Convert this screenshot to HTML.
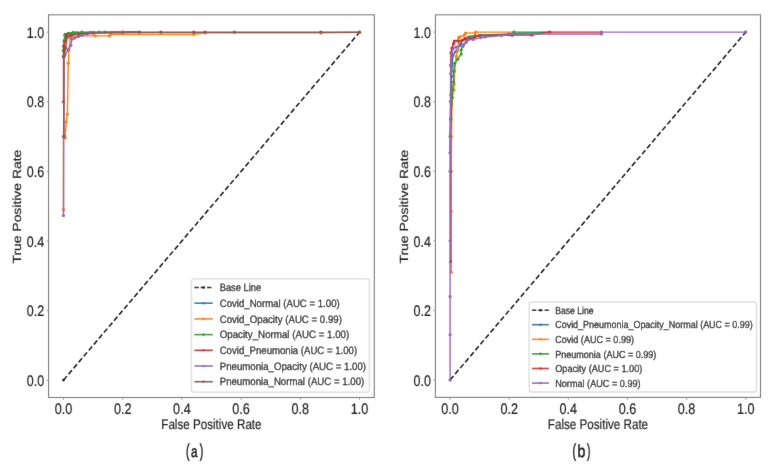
<!DOCTYPE html><html><head><meta charset="utf-8"><style>html,body{margin:0;padding:0;background:#fff;width:773px;height:469px;overflow:hidden}svg{display:block}text{font-family:"Liberation Sans", sans-serif;text-rendering:geometricPrecision}</style></head><body>
<svg width="773" height="469" viewBox="0 0 773 469">
<defs><filter id="bl" x="0" y="0" width="100%" height="100%" filterUnits="userSpaceOnUse"><feConvolveMatrix order="3" kernelMatrix="0.00524 0.06192 0.00524 0.06192 0.73137 0.06192 0.00524 0.06192 0.00524" divisor="1" edgeMode="duplicate" preserveAlpha="false"/></filter></defs>
<rect width="773" height="469" fill="#fff"/>
<g filter="url(#bl)">
<line x1="63.50" y1="380.10" x2="359.54" y2="32.20" stroke="#111" stroke-width="1.45" stroke-dasharray="5.2,2.6"/>
<circle cx="63.50" cy="380.10" r="1.3" fill="#111"/>
<circle cx="359.54" cy="32.20" r="1.3" fill="#111"/>
<polyline points="63.50,50.99 63.65,46.12 64.09,40.90 64.98,35.68 69.42,33.94 76.82,32.90 90.14,32.55 104.95,32.20 140.47,32.20" fill="none" stroke="#1f77b4" stroke-width="1.4" stroke-linejoin="round" stroke-linecap="round"/>
<circle cx="63.50" cy="50.99" r="1.6" fill="#1f77b4"/>
<circle cx="63.65" cy="46.12" r="1.6" fill="#1f77b4"/>
<circle cx="64.09" cy="40.90" r="1.6" fill="#1f77b4"/>
<circle cx="64.98" cy="35.68" r="1.6" fill="#1f77b4"/>
<circle cx="69.42" cy="33.94" r="1.6" fill="#1f77b4"/>
<circle cx="76.82" cy="32.90" r="1.6" fill="#1f77b4"/>
<circle cx="90.14" cy="32.55" r="1.6" fill="#1f77b4"/>
<circle cx="104.95" cy="32.20" r="1.6" fill="#1f77b4"/>
<polyline points="63.50,209.63 63.50,136.57 65.16,137.96 66.16,121.96 67.35,114.30 68.24,63.16 68.95,49.94 70.25,37.77 71.26,36.72 78.30,35.85 95.32,35.85 109.39,35.85 110.87,34.29 193.76,34.29 205.60,32.90 321.05,32.90 359.54,32.20" fill="none" stroke="#ff7f0e" stroke-width="1.4" stroke-linejoin="round" stroke-linecap="round"/>
<circle cx="63.50" cy="209.63" r="1.6" fill="#ff7f0e"/>
<circle cx="63.50" cy="136.57" r="1.6" fill="#ff7f0e"/>
<circle cx="65.16" cy="137.96" r="1.6" fill="#ff7f0e"/>
<circle cx="66.16" cy="121.96" r="1.6" fill="#ff7f0e"/>
<circle cx="67.35" cy="114.30" r="1.6" fill="#ff7f0e"/>
<circle cx="68.24" cy="63.16" r="1.6" fill="#ff7f0e"/>
<circle cx="68.95" cy="49.94" r="1.6" fill="#ff7f0e"/>
<circle cx="70.25" cy="37.77" r="1.6" fill="#ff7f0e"/>
<circle cx="71.26" cy="36.72" r="1.6" fill="#ff7f0e"/>
<circle cx="78.30" cy="35.85" r="1.6" fill="#ff7f0e"/>
<circle cx="95.32" cy="35.85" r="1.6" fill="#ff7f0e"/>
<circle cx="109.39" cy="35.85" r="1.6" fill="#ff7f0e"/>
<circle cx="110.87" cy="34.29" r="1.6" fill="#ff7f0e"/>
<circle cx="193.76" cy="34.29" r="1.6" fill="#ff7f0e"/>
<circle cx="205.60" cy="32.90" r="1.6" fill="#ff7f0e"/>
<circle cx="321.05" cy="32.90" r="1.6" fill="#ff7f0e"/>
<circle cx="359.54" cy="32.20" r="1.6" fill="#ff7f0e"/>
<polyline points="63.50,56.55 63.56,49.94 64.39,40.90 65.16,34.29 68.15,33.24 73.27,32.41 81.85,32.20 99.02,32.20 140.47,32.20" fill="none" stroke="#2ca02c" stroke-width="1.4" stroke-linejoin="round" stroke-linecap="round"/>
<circle cx="63.50" cy="56.55" r="1.6" fill="#2ca02c"/>
<circle cx="63.56" cy="49.94" r="1.6" fill="#2ca02c"/>
<circle cx="64.39" cy="40.90" r="1.6" fill="#2ca02c"/>
<circle cx="65.16" cy="34.29" r="1.6" fill="#2ca02c"/>
<circle cx="68.15" cy="33.24" r="1.6" fill="#2ca02c"/>
<circle cx="73.27" cy="32.41" r="1.6" fill="#2ca02c"/>
<circle cx="81.85" cy="32.20" r="1.6" fill="#2ca02c"/>
<circle cx="99.02" cy="32.20" r="1.6" fill="#2ca02c"/>
<polyline points="63.50,101.78 63.50,56.55 64.06,46.46 66.34,34.64 70.75,34.98 78.30,33.94 93.10,32.90 122.71,32.20 140.47,32.20" fill="none" stroke="#d62728" stroke-width="1.4" stroke-linejoin="round" stroke-linecap="round"/>
<circle cx="63.50" cy="101.78" r="1.6" fill="#d62728"/>
<circle cx="63.50" cy="56.55" r="1.6" fill="#d62728"/>
<circle cx="64.06" cy="46.46" r="1.6" fill="#d62728"/>
<circle cx="66.34" cy="34.64" r="1.6" fill="#d62728"/>
<circle cx="70.75" cy="34.98" r="1.6" fill="#d62728"/>
<circle cx="78.30" cy="33.94" r="1.6" fill="#d62728"/>
<circle cx="93.10" cy="32.90" r="1.6" fill="#d62728"/>
<circle cx="122.71" cy="32.20" r="1.6" fill="#d62728"/>
<polyline points="63.50,215.54 63.65,136.57 63.94,56.55 64.98,54.81 68.15,49.94 70.90,45.42 71.79,39.16 74.75,38.11 78.30,36.72 81.85,35.33 87.18,33.94 90.14,32.90 122.71,32.20 140.47,32.20" fill="none" stroke="#9467bd" stroke-width="1.4" stroke-linejoin="round" stroke-linecap="round"/>
<circle cx="63.50" cy="215.54" r="1.6" fill="#9467bd"/>
<circle cx="63.65" cy="136.57" r="1.6" fill="#9467bd"/>
<circle cx="63.94" cy="56.55" r="1.6" fill="#9467bd"/>
<circle cx="64.98" cy="54.81" r="1.6" fill="#9467bd"/>
<circle cx="68.15" cy="49.94" r="1.6" fill="#9467bd"/>
<circle cx="70.90" cy="45.42" r="1.6" fill="#9467bd"/>
<circle cx="71.79" cy="39.16" r="1.6" fill="#9467bd"/>
<circle cx="74.75" cy="38.11" r="1.6" fill="#9467bd"/>
<circle cx="78.30" cy="36.72" r="1.6" fill="#9467bd"/>
<circle cx="81.85" cy="35.33" r="1.6" fill="#9467bd"/>
<circle cx="87.18" cy="33.94" r="1.6" fill="#9467bd"/>
<circle cx="90.14" cy="32.90" r="1.6" fill="#9467bd"/>
<circle cx="122.71" cy="32.20" r="1.6" fill="#9467bd"/>
<polyline points="63.94,136.57 63.94,56.55 65.72,47.86 67.14,37.42 70.75,35.68 78.30,33.94 93.10,32.90 139.29,32.20 160.90,32.20 193.76,32.20 205.01,32.20 234.32,32.20 320.76,32.20 359.54,32.20" fill="none" stroke="#8c564b" stroke-width="1.4" stroke-linejoin="round" stroke-linecap="round"/>
<circle cx="63.94" cy="136.57" r="1.6" fill="#8c564b"/>
<circle cx="63.94" cy="56.55" r="1.6" fill="#8c564b"/>
<circle cx="65.72" cy="47.86" r="1.6" fill="#8c564b"/>
<circle cx="67.14" cy="37.42" r="1.6" fill="#8c564b"/>
<circle cx="70.75" cy="35.68" r="1.6" fill="#8c564b"/>
<circle cx="78.30" cy="33.94" r="1.6" fill="#8c564b"/>
<circle cx="93.10" cy="32.90" r="1.6" fill="#8c564b"/>
<circle cx="139.29" cy="32.20" r="1.6" fill="#8c564b"/>
<circle cx="160.90" cy="32.20" r="1.6" fill="#8c564b"/>
<circle cx="193.76" cy="32.20" r="1.6" fill="#8c564b"/>
<circle cx="205.01" cy="32.20" r="1.6" fill="#8c564b"/>
<circle cx="234.32" cy="32.20" r="1.6" fill="#8c564b"/>
<circle cx="320.76" cy="32.20" r="1.6" fill="#8c564b"/>
<circle cx="359.54" cy="32.20" r="1.6" fill="#8c564b"/>
<rect x="48.55" y="14.80" width="325.75" height="382.70" fill="none" stroke="#7f7f7f" stroke-width="1.1"/>
<line x1="63.50" y1="397.50" x2="63.50" y2="399.70" stroke="#999" stroke-width="1"/>
<text x="63.50" y="413.80" font-size="15.3" text-anchor="middle" fill="#1f1f1f" stroke="#1f1f1f" stroke-width="0.18" textLength="17.60" lengthAdjust="spacingAndGlyphs" >0.0</text>
<line x1="46.55" y1="380.10" x2="48.55" y2="380.10" stroke="#999" stroke-width="1"/>
<text x="44.15" y="385.80" font-size="15.3" text-anchor="end" fill="#1f1f1f" stroke="#1f1f1f" stroke-width="0.18" textLength="17.40" lengthAdjust="spacingAndGlyphs" >0.0</text>
<line x1="122.71" y1="397.50" x2="122.71" y2="399.70" stroke="#999" stroke-width="1"/>
<text x="122.71" y="413.80" font-size="15.3" text-anchor="middle" fill="#1f1f1f" stroke="#1f1f1f" stroke-width="0.18" textLength="17.60" lengthAdjust="spacingAndGlyphs" >0.2</text>
<line x1="46.55" y1="310.52" x2="48.55" y2="310.52" stroke="#999" stroke-width="1"/>
<text x="44.15" y="316.22" font-size="15.3" text-anchor="end" fill="#1f1f1f" stroke="#1f1f1f" stroke-width="0.18" textLength="17.40" lengthAdjust="spacingAndGlyphs" >0.2</text>
<line x1="181.92" y1="397.50" x2="181.92" y2="399.70" stroke="#999" stroke-width="1"/>
<text x="181.92" y="413.80" font-size="15.3" text-anchor="middle" fill="#1f1f1f" stroke="#1f1f1f" stroke-width="0.18" textLength="17.60" lengthAdjust="spacingAndGlyphs" >0.4</text>
<line x1="46.55" y1="240.94" x2="48.55" y2="240.94" stroke="#999" stroke-width="1"/>
<text x="44.15" y="246.64" font-size="15.3" text-anchor="end" fill="#1f1f1f" stroke="#1f1f1f" stroke-width="0.18" textLength="17.40" lengthAdjust="spacingAndGlyphs" >0.4</text>
<line x1="241.12" y1="397.50" x2="241.12" y2="399.70" stroke="#999" stroke-width="1"/>
<text x="241.12" y="413.80" font-size="15.3" text-anchor="middle" fill="#1f1f1f" stroke="#1f1f1f" stroke-width="0.18" textLength="17.60" lengthAdjust="spacingAndGlyphs" >0.6</text>
<line x1="46.55" y1="171.36" x2="48.55" y2="171.36" stroke="#999" stroke-width="1"/>
<text x="44.15" y="177.06" font-size="15.3" text-anchor="end" fill="#1f1f1f" stroke="#1f1f1f" stroke-width="0.18" textLength="17.40" lengthAdjust="spacingAndGlyphs" >0.6</text>
<line x1="300.33" y1="397.50" x2="300.33" y2="399.70" stroke="#999" stroke-width="1"/>
<text x="300.33" y="413.80" font-size="15.3" text-anchor="middle" fill="#1f1f1f" stroke="#1f1f1f" stroke-width="0.18" textLength="17.60" lengthAdjust="spacingAndGlyphs" >0.8</text>
<line x1="46.55" y1="101.78" x2="48.55" y2="101.78" stroke="#999" stroke-width="1"/>
<text x="44.15" y="107.48" font-size="15.3" text-anchor="end" fill="#1f1f1f" stroke="#1f1f1f" stroke-width="0.18" textLength="17.40" lengthAdjust="spacingAndGlyphs" >0.8</text>
<line x1="359.54" y1="397.50" x2="359.54" y2="399.70" stroke="#999" stroke-width="1"/>
<text x="359.54" y="413.80" font-size="15.3" text-anchor="middle" fill="#1f1f1f" stroke="#1f1f1f" stroke-width="0.18" textLength="17.60" lengthAdjust="spacingAndGlyphs" >1.0</text>
<line x1="46.55" y1="32.20" x2="48.55" y2="32.20" stroke="#999" stroke-width="1"/>
<text x="44.15" y="37.90" font-size="15.3" text-anchor="end" fill="#1f1f1f" stroke="#1f1f1f" stroke-width="0.18" textLength="17.40" lengthAdjust="spacingAndGlyphs" >1.0</text>
<text x="211.43" y="428.80" font-size="14" text-anchor="middle" fill="#1f1f1f" stroke="#1f1f1f" stroke-width="0.18" textLength="100.30" lengthAdjust="spacingAndGlyphs" >False Positive Rate</text>
<g transform="translate(21.40,206.65) scale(0.84,1) rotate(-90)"><text x="0" y="0" font-size="14" text-anchor="middle" fill="#1f1f1f" stroke="#1f1f1f" stroke-width="0.18" textLength="113.9" lengthAdjust="spacingAndGlyphs">True Positive Rate</text></g>
<rect x="191.50" y="278.90" width="178.00" height="113.20" rx="2.5" ry="2.5" fill="#fff" fill-opacity="0.8" stroke="#dcdcdc" stroke-width="1.3"/>
<line x1="194.40" y1="287.50" x2="212.80" y2="287.50" stroke="#111" stroke-width="1.6" stroke-dasharray="4.4,1.9"/>
<circle cx="203.60" cy="287.50" r="1.3" fill="#111"/>
<text x="219.70" y="291.25" font-size="10.7" text-anchor="start" fill="#1f1f1f" stroke="#1f1f1f" stroke-width="0.28" textLength="41.50" lengthAdjust="spacingAndGlyphs" >Base Line</text>
<line x1="194.40" y1="303.20" x2="212.80" y2="303.20" stroke="#1f77b4" stroke-width="1.6"/>
<circle cx="203.60" cy="303.20" r="1.3" fill="#1f77b4"/>
<text x="219.70" y="306.95" font-size="10.7" text-anchor="start" fill="#1f1f1f" stroke="#1f1f1f" stroke-width="0.28" textLength="120.00" lengthAdjust="spacingAndGlyphs" >Covid_Normal (AUC = 1.00)</text>
<line x1="194.40" y1="318.90" x2="212.80" y2="318.90" stroke="#ff7f0e" stroke-width="1.6"/>
<circle cx="203.60" cy="318.90" r="1.3" fill="#ff7f0e"/>
<text x="219.70" y="322.65" font-size="10.7" text-anchor="start" fill="#1f1f1f" stroke="#1f1f1f" stroke-width="0.28" textLength="122.20" lengthAdjust="spacingAndGlyphs" >Covid_Opacity (AUC = 0.99)</text>
<line x1="194.40" y1="334.60" x2="212.80" y2="334.60" stroke="#2ca02c" stroke-width="1.6"/>
<circle cx="203.60" cy="334.60" r="1.3" fill="#2ca02c"/>
<text x="219.70" y="338.35" font-size="10.7" text-anchor="start" fill="#1f1f1f" stroke="#1f1f1f" stroke-width="0.28" textLength="129.60" lengthAdjust="spacingAndGlyphs" >Opacity_Normal (AUC = 1.00)</text>
<line x1="194.40" y1="350.30" x2="212.80" y2="350.30" stroke="#d62728" stroke-width="1.6"/>
<circle cx="203.60" cy="350.30" r="1.3" fill="#d62728"/>
<text x="219.70" y="354.05" font-size="10.7" text-anchor="start" fill="#1f1f1f" stroke="#1f1f1f" stroke-width="0.28" textLength="137.40" lengthAdjust="spacingAndGlyphs" >Covid_Pneumonia (AUC = 1.00)</text>
<line x1="194.40" y1="366.00" x2="212.80" y2="366.00" stroke="#9467bd" stroke-width="1.6"/>
<circle cx="203.60" cy="366.00" r="1.3" fill="#9467bd"/>
<text x="219.70" y="369.75" font-size="10.7" text-anchor="start" fill="#1f1f1f" stroke="#1f1f1f" stroke-width="0.28" textLength="146.40" lengthAdjust="spacingAndGlyphs" >Pneumonia_Opacity (AUC = 1.00)</text>
<line x1="194.40" y1="381.70" x2="212.80" y2="381.70" stroke="#8c564b" stroke-width="1.6"/>
<circle cx="203.60" cy="381.70" r="1.3" fill="#8c564b"/>
<text x="219.70" y="385.45" font-size="10.7" text-anchor="start" fill="#1f1f1f" stroke="#1f1f1f" stroke-width="0.28" textLength="144.60" lengthAdjust="spacingAndGlyphs" >Pneumonia_Normal (AUC = 1.00)</text>
<line x1="450.10" y1="380.00" x2="745.70" y2="32.10" stroke="#111" stroke-width="1.45" stroke-dasharray="5.2,2.6"/>
<circle cx="450.10" cy="380.00" r="1.3" fill="#111"/>
<circle cx="745.70" cy="32.10" r="1.3" fill="#111"/>
<polyline points="450.10,152.82 450.40,119.08 450.99,94.72 451.49,76.28 451.99,65.85 453.00,55.06 456.01,51.23 459.56,45.67 460.74,42.88 464.58,38.71 468.13,37.32 470.50,36.97 480.84,35.23 509.22,33.84 550.60,32.10" fill="none" stroke="#1f77b4" stroke-width="1.4" stroke-linejoin="round" stroke-linecap="round"/>
<circle cx="450.10" cy="152.82" r="1.6" fill="#1f77b4"/>
<circle cx="450.40" cy="119.08" r="1.6" fill="#1f77b4"/>
<circle cx="450.99" cy="94.72" r="1.6" fill="#1f77b4"/>
<circle cx="451.49" cy="76.28" r="1.6" fill="#1f77b4"/>
<circle cx="451.99" cy="65.85" r="1.6" fill="#1f77b4"/>
<circle cx="453.00" cy="55.06" r="1.6" fill="#1f77b4"/>
<circle cx="456.01" cy="51.23" r="1.6" fill="#1f77b4"/>
<circle cx="459.56" cy="45.67" r="1.6" fill="#1f77b4"/>
<circle cx="460.74" cy="42.88" r="1.6" fill="#1f77b4"/>
<circle cx="464.58" cy="38.71" r="1.6" fill="#1f77b4"/>
<circle cx="468.13" cy="37.32" r="1.6" fill="#1f77b4"/>
<circle cx="470.50" cy="36.97" r="1.6" fill="#1f77b4"/>
<circle cx="480.84" cy="35.23" r="1.6" fill="#1f77b4"/>
<circle cx="509.22" cy="33.84" r="1.6" fill="#1f77b4"/>
<polyline points="451.28,272.15 451.28,211.62 451.28,171.26 451.43,136.47 451.99,104.12 452.46,97.85 453.65,90.20 454.09,83.94 454.71,71.06 456.31,56.45 457.79,50.54 458.67,37.67 459.85,36.97 464.29,35.23 465.47,33.14 475.82,32.80 475.82,32.10 513.95,32.10" fill="none" stroke="#ff7f0e" stroke-width="1.4" stroke-linejoin="round" stroke-linecap="round"/>
<circle cx="451.28" cy="272.15" r="1.6" fill="#ff7f0e"/>
<circle cx="451.28" cy="211.62" r="1.6" fill="#ff7f0e"/>
<circle cx="451.28" cy="171.26" r="1.6" fill="#ff7f0e"/>
<circle cx="451.43" cy="136.47" r="1.6" fill="#ff7f0e"/>
<circle cx="451.99" cy="104.12" r="1.6" fill="#ff7f0e"/>
<circle cx="452.46" cy="97.85" r="1.6" fill="#ff7f0e"/>
<circle cx="453.65" cy="90.20" r="1.6" fill="#ff7f0e"/>
<circle cx="454.09" cy="83.94" r="1.6" fill="#ff7f0e"/>
<circle cx="454.71" cy="71.06" r="1.6" fill="#ff7f0e"/>
<circle cx="456.31" cy="56.45" r="1.6" fill="#ff7f0e"/>
<circle cx="457.79" cy="50.54" r="1.6" fill="#ff7f0e"/>
<circle cx="458.67" cy="37.67" r="1.6" fill="#ff7f0e"/>
<circle cx="459.85" cy="36.97" r="1.6" fill="#ff7f0e"/>
<circle cx="464.29" cy="35.23" r="1.6" fill="#ff7f0e"/>
<circle cx="465.47" cy="33.14" r="1.6" fill="#ff7f0e"/>
<circle cx="475.82" cy="32.80" r="1.6" fill="#ff7f0e"/>
<circle cx="475.82" cy="32.10" r="1.6" fill="#ff7f0e"/>
<polyline points="450.10,136.47 450.99,119.08 451.99,97.85 452.46,89.16 453.65,81.85 453.65,71.06 454.71,63.41 457.79,59.24 461.19,54.02 461.19,49.84 462.81,46.36 468.13,37.67 470.50,36.97 474.93,35.58 484.98,35.23 512.18,35.23 513.95,32.10 549.72,32.10" fill="none" stroke="#2ca02c" stroke-width="1.4" stroke-linejoin="round" stroke-linecap="round"/>
<circle cx="450.10" cy="136.47" r="1.6" fill="#2ca02c"/>
<circle cx="450.99" cy="119.08" r="1.6" fill="#2ca02c"/>
<circle cx="451.99" cy="97.85" r="1.6" fill="#2ca02c"/>
<circle cx="452.46" cy="89.16" r="1.6" fill="#2ca02c"/>
<circle cx="453.65" cy="81.85" r="1.6" fill="#2ca02c"/>
<circle cx="453.65" cy="71.06" r="1.6" fill="#2ca02c"/>
<circle cx="454.71" cy="63.41" r="1.6" fill="#2ca02c"/>
<circle cx="457.79" cy="59.24" r="1.6" fill="#2ca02c"/>
<circle cx="461.19" cy="54.02" r="1.6" fill="#2ca02c"/>
<circle cx="461.19" cy="49.84" r="1.6" fill="#2ca02c"/>
<circle cx="462.81" cy="46.36" r="1.6" fill="#2ca02c"/>
<circle cx="468.13" cy="37.67" r="1.6" fill="#2ca02c"/>
<circle cx="470.50" cy="36.97" r="1.6" fill="#2ca02c"/>
<circle cx="474.93" cy="35.58" r="1.6" fill="#2ca02c"/>
<circle cx="484.98" cy="35.23" r="1.6" fill="#2ca02c"/>
<circle cx="512.18" cy="35.23" r="1.6" fill="#2ca02c"/>
<circle cx="513.95" cy="32.10" r="1.6" fill="#2ca02c"/>
<polyline points="450.54,261.71 450.54,171.26 450.69,101.68 450.69,65.15 450.99,52.97 451.87,48.10 453.50,43.93 454.39,41.15 457.79,40.80 461.92,40.45 465.47,39.06 469.02,38.36 473.16,38.01 474.93,36.97 479.07,35.58 511.88,34.95 531.69,34.95 549.72,32.10 601.45,32.10" fill="none" stroke="#d62728" stroke-width="1.4" stroke-linejoin="round" stroke-linecap="round"/>
<circle cx="450.54" cy="261.71" r="1.6" fill="#d62728"/>
<circle cx="450.54" cy="171.26" r="1.6" fill="#d62728"/>
<circle cx="450.69" cy="101.68" r="1.6" fill="#d62728"/>
<circle cx="450.69" cy="65.15" r="1.6" fill="#d62728"/>
<circle cx="450.99" cy="52.97" r="1.6" fill="#d62728"/>
<circle cx="451.87" cy="48.10" r="1.6" fill="#d62728"/>
<circle cx="453.50" cy="43.93" r="1.6" fill="#d62728"/>
<circle cx="454.39" cy="41.15" r="1.6" fill="#d62728"/>
<circle cx="457.79" cy="40.80" r="1.6" fill="#d62728"/>
<circle cx="461.92" cy="40.45" r="1.6" fill="#d62728"/>
<circle cx="465.47" cy="39.06" r="1.6" fill="#d62728"/>
<circle cx="469.02" cy="38.36" r="1.6" fill="#d62728"/>
<circle cx="473.16" cy="38.01" r="1.6" fill="#d62728"/>
<circle cx="474.93" cy="36.97" r="1.6" fill="#d62728"/>
<circle cx="479.07" cy="35.58" r="1.6" fill="#d62728"/>
<circle cx="511.88" cy="34.95" r="1.6" fill="#d62728"/>
<circle cx="531.69" cy="34.95" r="1.6" fill="#d62728"/>
<circle cx="549.72" cy="32.10" r="1.6" fill="#d62728"/>
<polyline points="450.10,380.00 450.10,334.77 450.10,296.50 450.10,240.84 450.10,171.26 450.40,101.68 450.69,73.85 450.99,65.15 451.87,52.97 453.50,48.10 456.01,47.06 461.92,45.67 463.70,44.62 466.36,42.19 468.13,39.75 473.16,39.41 480.84,37.67 484.98,36.97 501.53,35.58 512.18,34.01 601.45,34.01 601.45,32.10 745.70,32.10" fill="none" stroke="#9467bd" stroke-width="1.4" stroke-linejoin="round" stroke-linecap="round"/>
<circle cx="450.10" cy="380.00" r="1.6" fill="#9467bd"/>
<circle cx="450.10" cy="334.77" r="1.6" fill="#9467bd"/>
<circle cx="450.10" cy="296.50" r="1.6" fill="#9467bd"/>
<circle cx="450.10" cy="240.84" r="1.6" fill="#9467bd"/>
<circle cx="450.10" cy="171.26" r="1.6" fill="#9467bd"/>
<circle cx="450.40" cy="101.68" r="1.6" fill="#9467bd"/>
<circle cx="450.69" cy="73.85" r="1.6" fill="#9467bd"/>
<circle cx="450.99" cy="65.15" r="1.6" fill="#9467bd"/>
<circle cx="451.87" cy="52.97" r="1.6" fill="#9467bd"/>
<circle cx="453.50" cy="48.10" r="1.6" fill="#9467bd"/>
<circle cx="456.01" cy="47.06" r="1.6" fill="#9467bd"/>
<circle cx="461.92" cy="45.67" r="1.6" fill="#9467bd"/>
<circle cx="463.70" cy="44.62" r="1.6" fill="#9467bd"/>
<circle cx="466.36" cy="42.19" r="1.6" fill="#9467bd"/>
<circle cx="468.13" cy="39.75" r="1.6" fill="#9467bd"/>
<circle cx="473.16" cy="39.41" r="1.6" fill="#9467bd"/>
<circle cx="480.84" cy="37.67" r="1.6" fill="#9467bd"/>
<circle cx="484.98" cy="36.97" r="1.6" fill="#9467bd"/>
<circle cx="501.53" cy="35.58" r="1.6" fill="#9467bd"/>
<circle cx="512.18" cy="34.01" r="1.6" fill="#9467bd"/>
<circle cx="601.45" cy="34.01" r="1.6" fill="#9467bd"/>
<circle cx="601.45" cy="32.10" r="1.6" fill="#9467bd"/>
<circle cx="745.70" cy="32.10" r="1.6" fill="#9467bd"/>
<rect x="435.40" y="14.80" width="325.10" height="382.60" fill="none" stroke="#7f7f7f" stroke-width="1.1"/>
<line x1="450.10" y1="397.40" x2="450.10" y2="399.60" stroke="#999" stroke-width="1"/>
<text x="450.10" y="413.80" font-size="15.3" text-anchor="middle" fill="#1f1f1f" stroke="#1f1f1f" stroke-width="0.18" textLength="17.60" lengthAdjust="spacingAndGlyphs" >0.0</text>
<line x1="433.40" y1="380.00" x2="435.40" y2="380.00" stroke="#999" stroke-width="1"/>
<text x="431.00" y="385.70" font-size="15.3" text-anchor="end" fill="#1f1f1f" stroke="#1f1f1f" stroke-width="0.18" textLength="17.40" lengthAdjust="spacingAndGlyphs" >0.0</text>
<line x1="509.22" y1="397.40" x2="509.22" y2="399.60" stroke="#999" stroke-width="1"/>
<text x="509.22" y="413.80" font-size="15.3" text-anchor="middle" fill="#1f1f1f" stroke="#1f1f1f" stroke-width="0.18" textLength="17.60" lengthAdjust="spacingAndGlyphs" >0.2</text>
<line x1="433.40" y1="310.42" x2="435.40" y2="310.42" stroke="#999" stroke-width="1"/>
<text x="431.00" y="316.12" font-size="15.3" text-anchor="end" fill="#1f1f1f" stroke="#1f1f1f" stroke-width="0.18" textLength="17.40" lengthAdjust="spacingAndGlyphs" >0.2</text>
<line x1="568.34" y1="397.40" x2="568.34" y2="399.60" stroke="#999" stroke-width="1"/>
<text x="568.34" y="413.80" font-size="15.3" text-anchor="middle" fill="#1f1f1f" stroke="#1f1f1f" stroke-width="0.18" textLength="17.60" lengthAdjust="spacingAndGlyphs" >0.4</text>
<line x1="433.40" y1="240.84" x2="435.40" y2="240.84" stroke="#999" stroke-width="1"/>
<text x="431.00" y="246.54" font-size="15.3" text-anchor="end" fill="#1f1f1f" stroke="#1f1f1f" stroke-width="0.18" textLength="17.40" lengthAdjust="spacingAndGlyphs" >0.4</text>
<line x1="627.46" y1="397.40" x2="627.46" y2="399.60" stroke="#999" stroke-width="1"/>
<text x="627.46" y="413.80" font-size="15.3" text-anchor="middle" fill="#1f1f1f" stroke="#1f1f1f" stroke-width="0.18" textLength="17.60" lengthAdjust="spacingAndGlyphs" >0.6</text>
<line x1="433.40" y1="171.26" x2="435.40" y2="171.26" stroke="#999" stroke-width="1"/>
<text x="431.00" y="176.96" font-size="15.3" text-anchor="end" fill="#1f1f1f" stroke="#1f1f1f" stroke-width="0.18" textLength="17.40" lengthAdjust="spacingAndGlyphs" >0.6</text>
<line x1="686.58" y1="397.40" x2="686.58" y2="399.60" stroke="#999" stroke-width="1"/>
<text x="686.58" y="413.80" font-size="15.3" text-anchor="middle" fill="#1f1f1f" stroke="#1f1f1f" stroke-width="0.18" textLength="17.60" lengthAdjust="spacingAndGlyphs" >0.8</text>
<line x1="433.40" y1="101.68" x2="435.40" y2="101.68" stroke="#999" stroke-width="1"/>
<text x="431.00" y="107.38" font-size="15.3" text-anchor="end" fill="#1f1f1f" stroke="#1f1f1f" stroke-width="0.18" textLength="17.40" lengthAdjust="spacingAndGlyphs" >0.8</text>
<line x1="745.70" y1="397.40" x2="745.70" y2="399.60" stroke="#999" stroke-width="1"/>
<text x="745.70" y="413.80" font-size="15.3" text-anchor="middle" fill="#1f1f1f" stroke="#1f1f1f" stroke-width="0.18" textLength="17.60" lengthAdjust="spacingAndGlyphs" >1.0</text>
<line x1="433.40" y1="32.10" x2="435.40" y2="32.10" stroke="#999" stroke-width="1"/>
<text x="431.00" y="37.80" font-size="15.3" text-anchor="end" fill="#1f1f1f" stroke="#1f1f1f" stroke-width="0.18" textLength="17.40" lengthAdjust="spacingAndGlyphs" >1.0</text>
<text x="597.95" y="428.80" font-size="14" text-anchor="middle" fill="#1f1f1f" stroke="#1f1f1f" stroke-width="0.18" textLength="100.30" lengthAdjust="spacingAndGlyphs" >False Positive Rate</text>
<g transform="translate(407.90,206.60) scale(0.84,1) rotate(-90)"><text x="0" y="0" font-size="14" text-anchor="middle" fill="#1f1f1f" stroke="#1f1f1f" stroke-width="0.18" textLength="113.9" lengthAdjust="spacingAndGlyphs">True Positive Rate</text></g>
<rect x="529.10" y="302.20" width="227.40" height="89.80" rx="2.5" ry="2.5" fill="#fff" fill-opacity="0.8" stroke="#dcdcdc" stroke-width="1.3"/>
<line x1="532.00" y1="310.20" x2="548.90" y2="310.20" stroke="#111" stroke-width="1.6" stroke-dasharray="4.4,1.9"/>
<circle cx="540.45" cy="310.20" r="1.3" fill="#111"/>
<text x="555.20" y="313.95" font-size="10.2" text-anchor="start" fill="#1f1f1f" stroke="#1f1f1f" stroke-width="0.28" textLength="38.40" lengthAdjust="spacingAndGlyphs" >Base Line</text>
<line x1="532.00" y1="324.70" x2="548.90" y2="324.70" stroke="#1f77b4" stroke-width="1.6"/>
<circle cx="540.45" cy="324.70" r="1.3" fill="#1f77b4"/>
<text x="555.20" y="328.45" font-size="10.2" text-anchor="start" fill="#1f1f1f" stroke="#1f1f1f" stroke-width="0.28" textLength="197.50" lengthAdjust="spacingAndGlyphs" >Covid_Pneumonia_Opacity_Normal (AUC = 0.99)</text>
<line x1="532.00" y1="339.30" x2="548.90" y2="339.30" stroke="#ff7f0e" stroke-width="1.6"/>
<circle cx="540.45" cy="339.30" r="1.3" fill="#ff7f0e"/>
<text x="555.20" y="343.05" font-size="10.2" text-anchor="start" fill="#1f1f1f" stroke="#1f1f1f" stroke-width="0.28" textLength="78.80" lengthAdjust="spacingAndGlyphs" >Covid (AUC = 0.99)</text>
<line x1="532.00" y1="353.90" x2="548.90" y2="353.90" stroke="#2ca02c" stroke-width="1.6"/>
<circle cx="540.45" cy="353.90" r="1.3" fill="#2ca02c"/>
<text x="555.20" y="357.65" font-size="10.2" text-anchor="start" fill="#1f1f1f" stroke="#1f1f1f" stroke-width="0.28" textLength="101.20" lengthAdjust="spacingAndGlyphs" >Pneumonia (AUC = 0.99)</text>
<line x1="532.00" y1="368.50" x2="548.90" y2="368.50" stroke="#d62728" stroke-width="1.6"/>
<circle cx="540.45" cy="368.50" r="1.3" fill="#d62728"/>
<text x="555.20" y="372.25" font-size="10.2" text-anchor="start" fill="#1f1f1f" stroke="#1f1f1f" stroke-width="0.28" textLength="87.10" lengthAdjust="spacingAndGlyphs" >Opacity (AUC = 1.00)</text>
<line x1="532.00" y1="383.10" x2="548.90" y2="383.10" stroke="#9467bd" stroke-width="1.6"/>
<circle cx="540.45" cy="383.10" r="1.3" fill="#9467bd"/>
<text x="555.20" y="386.85" font-size="10.2" text-anchor="start" fill="#1f1f1f" stroke="#1f1f1f" stroke-width="0.28" textLength="85.40" lengthAdjust="spacingAndGlyphs" >Normal (AUC = 0.99)</text>
<text transform="translate(185.94,456.80) scale(0.570,1)" x="0" y="0" font-size="18.6" fill="#1a1a1a" stroke="#1a1a1a" stroke-width="0.5">(</text>
<text transform="translate(191.01,456.90) scale(0.722,1)" x="0" y="0" font-size="16.2" fill="#1a1a1a" stroke="#1a1a1a" stroke-width="0.5">a</text>
<text transform="translate(199.84,456.80) scale(0.570,1)" x="0" y="0" font-size="18.6" fill="#1a1a1a" stroke="#1a1a1a" stroke-width="0.5">)</text>
<text transform="translate(572.44,456.80) scale(0.570,1)" x="0" y="0" font-size="18.6" fill="#1a1a1a" stroke="#1a1a1a" stroke-width="0.5">(</text>
<text transform="translate(577.59,456.90) scale(0.818,1)" x="0" y="0" font-size="17.2" fill="#1a1a1a" stroke="#1a1a1a" stroke-width="0.5">b</text>
<text transform="translate(587.04,456.80) scale(0.550,1)" x="0" y="0" font-size="18.6" fill="#1a1a1a" stroke="#1a1a1a" stroke-width="0.5">)</text>
</g>
</svg></body></html>
